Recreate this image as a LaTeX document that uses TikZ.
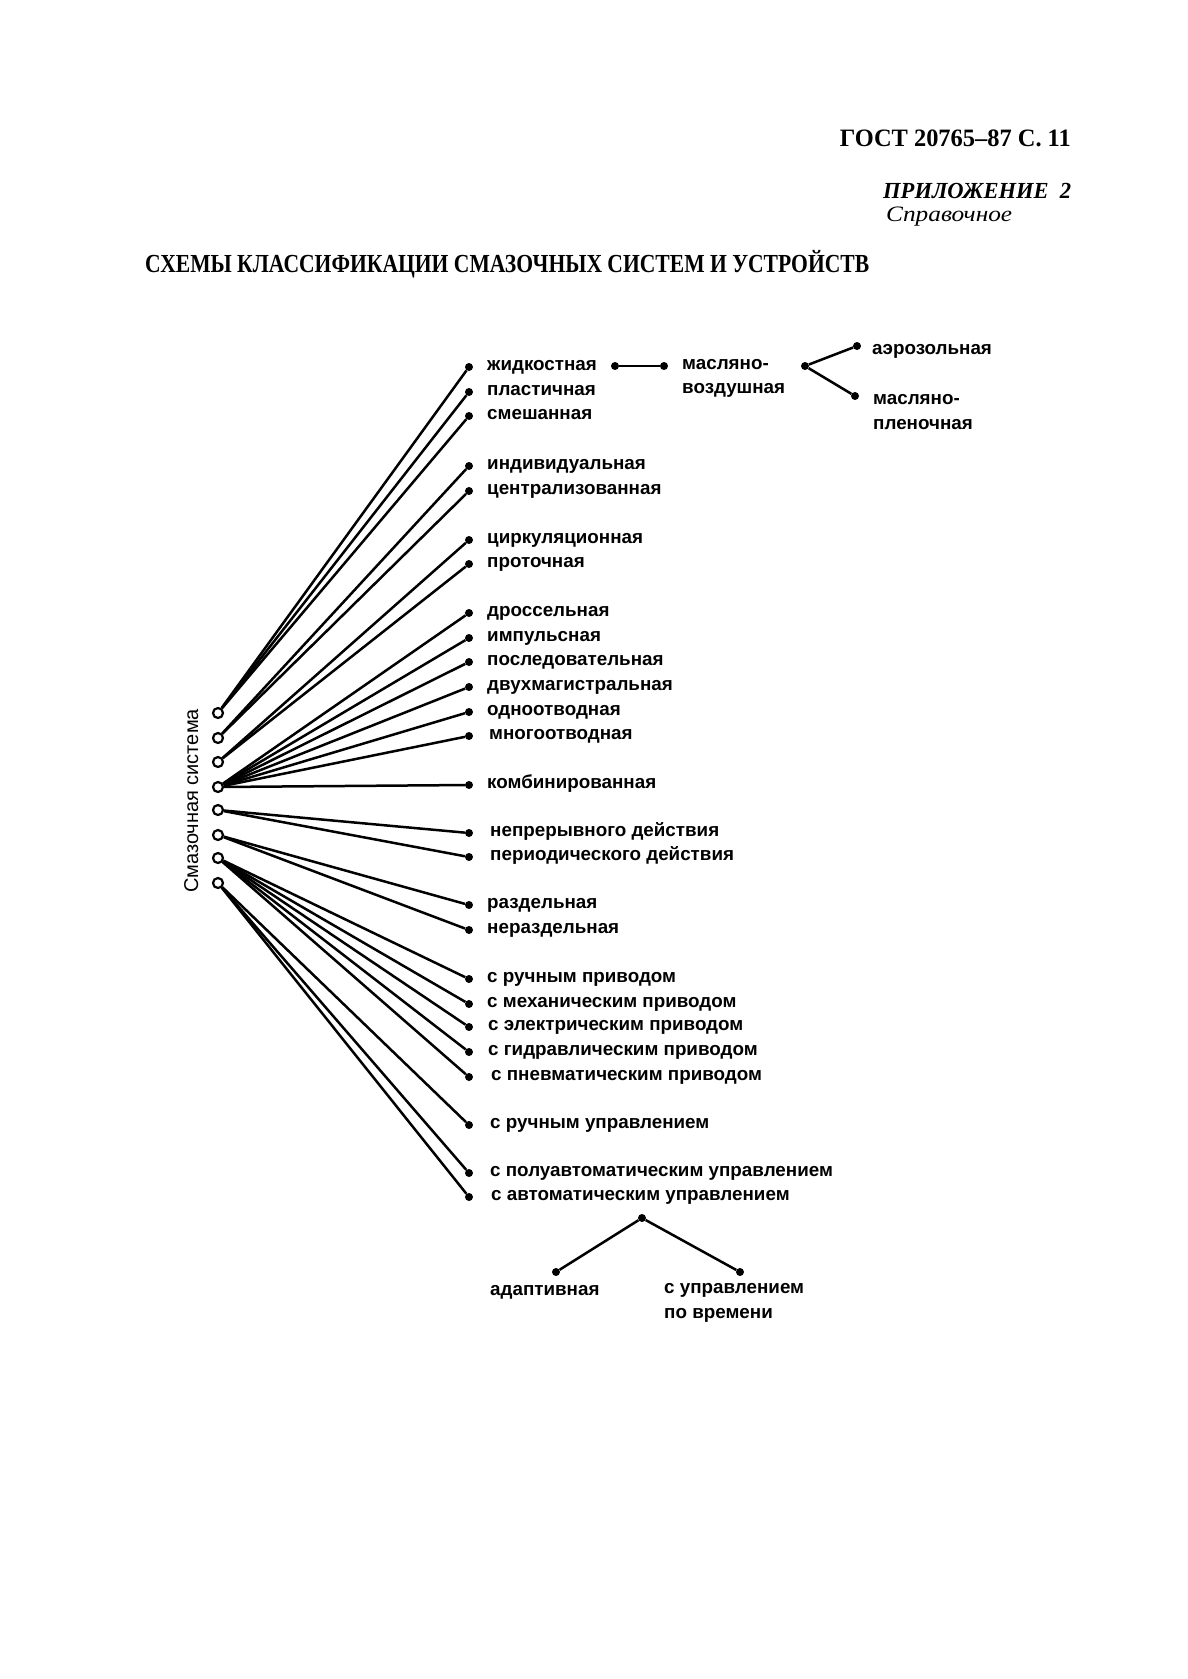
\documentclass[tikz,border=0pt]{standalone}
\usepackage{fontspec}
\usepackage{graphicx}
\setmainfont{Liberation Serif}
\setsansfont{Liberation Sans}
\begin{document}
\begin{tikzpicture}[x=1pt,y=-1pt,
  lbl/.style={anchor=base west,inner sep=0pt,font=\fontsize{18.8}{21}\selectfont\sffamily\bfseries},
  hub/.style={draw,circle,line width=2.2pt,minimum size=10pt,inner sep=0pt,fill=white},
  dot/.style={fill,circle,minimum size=8pt,inner sep=0pt},
  ln/.style={line width=2.5pt},
  hdr/.style={inner sep=0pt}]
\useasboundingbox[fill=white] (0,0) rectangle (1187,1679);

% header
\node[hdr,anchor=base east] (gost) at (1071,146) {\resizebox{231pt}{\height}{\fontsize{25}{28}\selectfont\bfseries ГОСТ 20765–87 С. 11}};
\node[hdr,anchor=base west] (pril) at (883,198) {\resizebox{188pt}{\height}{\fontsize{23}{26}\selectfont\bfseries\itshape ПРИЛОЖЕНИЕ\ \ 2}};
\node[hdr,anchor=base west] (sprav) at (886,221) {\resizebox{126pt}{\height}{\fontsize{22}{26}\selectfont\itshape Справочное}};
\node[hdr,anchor=base west] (title) at (145,272) {\resizebox{724pt}{\height}{\fontsize{26}{30}\selectfont\bfseries СХЕМЫ КЛАССИФИКАЦИИ СМАЗОЧНЫХ СИСТЕМ И УСТРОЙСТВ}};

% rotated label
\node[rotate=90,anchor=base,inner sep=0pt,font=\fontsize{20}{22}\selectfont\sffamily] (sys) at (198,801) {Смазочная система};

% hubs
\foreach \i/\y in {1/713,2/738,3/762,4/787,5/810,6/835,7/858,8/883}
  \node[hub] (c\i) at (218,\y) {};

% end points and labels
\foreach \i/\y/\x/\t in {
  1/367/487/жидкостная, 2/392/487/пластичная, 3/416/487/смешанная,
  4/466/487/индивидуальная, 5/491/487/централизованная,
  6/540/487/циркуляционная, 7/564/487/проточная,
  8/613/487/дроссельная, 9/638/487/импульсная, 10/662/487/последовательная,
  11/687/487/двухмагистральная, 12/712/487/одноотводная, 13/736/489/многоотводная,
  14/785/487/комбинированная,
  15/833/490/непрерывного действия, 16/857/490/периодического действия,
  17/905/487/раздельная, 18/930/487/нераздельная,
  19/979/487/с ручным приводом, 20/1004/487/с механическим приводом,
  21/1027/488/с электрическим приводом, 22/1052/488/с гидравлическим приводом,
  23/1077/491/с пневматическим приводом,
  24/1125/490/с ручным управлением,
  25/1173/490/с полуавтоматическим управлением, 26/1197/491/с автоматическим управлением}
{
  \node[dot] (d\i) at (469,\y) {};
  \node[lbl] (t\i) at (\x,\y+3) {\t};
}

% connectors from hubs
\foreach \c/\i in {1/1,1/2,1/3,2/4,2/5,3/6,3/7,
  4/8,4/9,4/10,4/11,4/12,4/13,4/14,5/15,5/16,6/17,6/18,
  7/19,7/20,7/21,7/22,7/23,8/24,8/25,8/26}
  \draw[ln] (c\c) -- (d\i);

% масляно-воздушная branch
\node[dot] (m1) at (615,366) {};
\node[dot] (m2) at (664,366) {};
\draw[ln] (m1) -- (m2);
\node[lbl] (tm) at (682,369) {масляно-};
\node[lbl] (tv) at (682,393) {воздушная};
\node[dot] (mb) at (805,366) {};
\node[dot] (ma) at (857,346) {};
\node[dot] (mp) at (855,396) {};
\draw[ln] (mb) -- (ma);
\draw[ln] (mb) -- (mp);
\node[lbl] (ta) at (872,354) {аэрозольная};
\node[lbl] (tp1) at (873,404) {масляно-};
\node[lbl] (tp2) at (873,429) {пленочная};

% автоматическое управление branch
\node[dot] (ab) at (642,1218) {};
\node[dot] (aa) at (556,1272) {};
\node[dot] (at) at (740,1272) {};
\draw[ln] (ab) -- (aa);
\draw[ln] (ab) -- (at);
\node[lbl] (tad) at (490,1295) {адаптивная};
\node[lbl] (tu1) at (664,1293) {с управлением};
\node[lbl] (tu2) at (664,1318) {по времени};
\end{tikzpicture}
\end{document}
